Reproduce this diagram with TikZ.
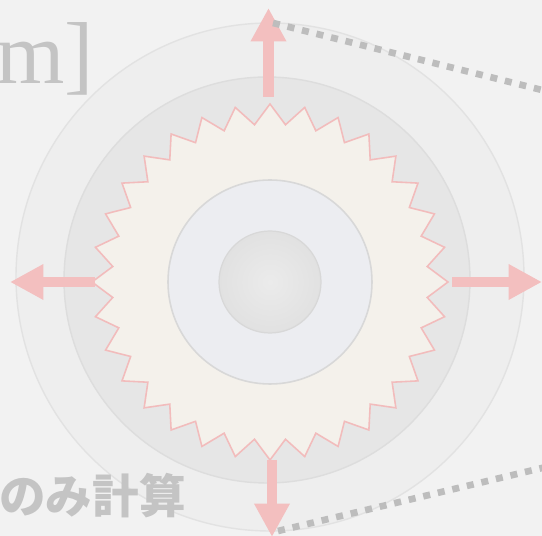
\documentclass[tikz,border=0pt]{standalone}
\usepackage{fontspec}
\usepackage{xcolor}
\usetikzlibrary{arrows.meta}
\newfontfamily\serifm{Liberation Serif}
\newfontfamily\cjk{Noto Sans CJK JP}
\definecolor{bgcol}{HTML}{F2F2F2}
\definecolor{ringA}{HTML}{EEEEEE}
\definecolor{ringAline}{HTML}{E2E2E2}
\definecolor{ringB}{HTML}{E6E6E6}
\definecolor{ringBline}{HTML}{DDDDDD}
\definecolor{burstfill}{HTML}{F4F1EB}
\definecolor{burstline}{HTML}{F2BCBC}
\definecolor{corefill}{HTML}{ECEDF1}
\definecolor{coreline}{HTML}{D8D8D8}
\definecolor{ballin}{HTML}{EBEBEB}
\definecolor{ballout}{HTML}{D7D7D7}
\definecolor{arrowpink}{HTML}{F3BFBF}
\definecolor{dotgray}{HTML}{BDBDBD}
\definecolor{txtgray}{HTML}{C4C4C4}
\pgfdeclareradialshading{ball}{\pgfpoint{0bp}{0bp}}{color(0bp)=(ballin); color(50bp)=(ballout)}

\begin{document}
\begin{tikzpicture}[x=0.02cm,y=-0.02cm,
  push/.style={draw=arrowpink,line width=6.2pt,-{Triangle[width=19pt,length=19pt]}},
  zoomline/.style={draw=dotgray,line width=3.8pt,dash pattern=on 4pt off 4.5pt}]
  \clip (0,0) rectangle (542,536);
  \fill[bgcol] (0,0) rectangle (542,536);
  \coordinate (c) at (270,282);
  % rings
  \draw[fill=ringA,draw=ringAline,line width=0.8pt] (270,277) circle [radius=254];
  \draw[fill=ringB,draw=ringBline,line width=0.8pt] (267,280) circle [radius=203];
  % burst
  \draw[fill=burstfill,draw=burstline,line width=0.9pt,shift={(c)}]
    (90:178) \foreach \k in {1,...,32}{ -- ({90+\k*11.25-5.625}:158) -- ({90+\k*11.25}:178)} -- cycle;
  % core
  \draw[fill=corefill,draw=coreline,line width=0.9pt] (c) circle [radius=102];
  \shade[shading=ball] (c) circle [radius=51];
  \draw[coreline,line width=0.7pt] (c) circle [radius=51];
  % arrows
  \coordinate (topS) at (268.5,97);
  \coordinate (topT) at (268.5,8);
  \coordinate (botS) at (272,460);
  \coordinate (botT) at (272,537);
  \coordinate (lefS) at (95,282);
  \coordinate (lefT) at (10,282);
  \coordinate (rigS) at (452,282);
  \coordinate (rigT) at (542,282);
  \draw[push] (topS) -- (topT);
  \draw[push] (botS) -- (botT);
  \draw[push] (lefS) -- (lefT);
  \draw[push] (rigS) -- (rigT);
  % zoom lines
  \coordinate (zA) at (273,23);
  \coordinate (zB) at (560,94.5);
  \coordinate (zC) at (278,531);
  \coordinate (zD) at (560,463.7);
  \draw[zoomline] (zA) -- (zB);
  \draw[zoomline] (zC) -- (zD);
  % labels
  \node[anchor=base west,inner sep=0,text=txtgray,font=\serifm\fontsize{50}{50}\selectfont] (unit) at (-4,84) {m]};
  \node[anchor=base east,inner sep=0,text=txtgray,font=\cjk\bfseries\fontsize{26.5}{26.5}\selectfont] (note) at (186,514) {のみ計算};
\end{tikzpicture}
\end{document}
